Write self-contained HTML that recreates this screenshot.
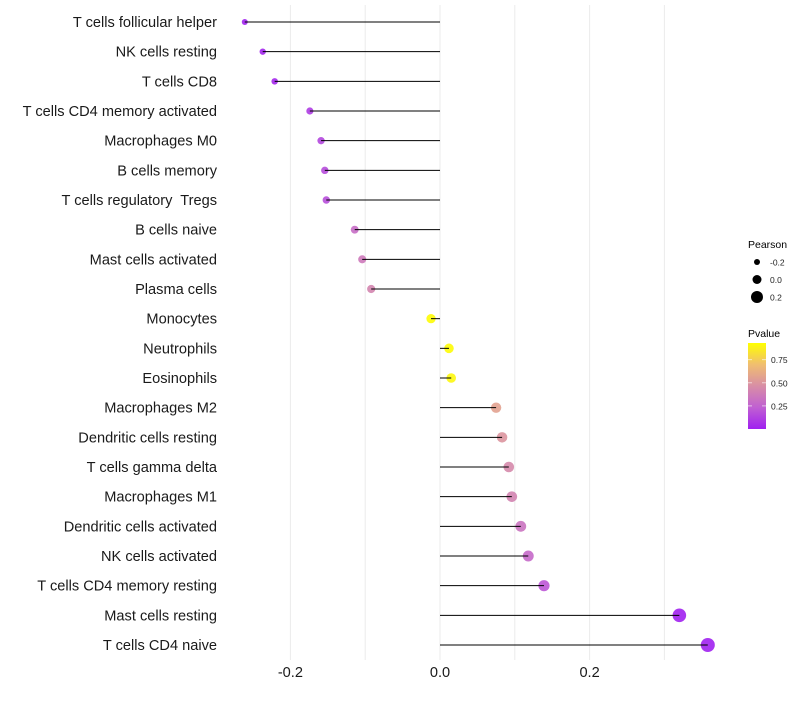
<!DOCTYPE html>
<html><head><meta charset="utf-8"><style>
body{margin:0;background:#fff;}
svg{font-family:"Liberation Sans",sans-serif;}
text{white-space:pre;}
</style></head><body>
<svg id="chart" width="800" height="700"></svg>
<script>
const categories=["T cells follicular helper","NK cells resting","T cells CD8","T cells CD4 memory activated","Macrophages M0","B cells memory","T cells regulatory  Tregs","B cells naive","Mast cells activated","Plasma cells","Monocytes","Neutrophils","Eosinophils","Macrophages M2","Dendritic cells resting","T cells gamma delta","Macrophages M1","Dendritic cells activated","NK cells activated","T cells CD4 memory resting","Mast cells resting","T cells CD4 naive"];
const pearson=[-0.261,-0.237,-0.221,-0.174,-0.159,-0.154,-0.152,-0.114,-0.104,-0.092,-0.012,0.012,0.015,0.075,0.083,0.092,0.096,0.108,0.118,0.139,0.320,0.358];
const pvalue=[0.01,0.02,0.03,0.10,0.14,0.16,0.17,0.30,0.36,0.42,0.92,0.92,0.90,0.56,0.50,0.44,0.41,0.33,0.28,0.20,0.005,0.002];
const xTicks=[-0.2,0.0,0.2];
const xTickLabels=["-0.2","0.0","0.2"];
const sizeLegend=[-0.2,0.0,0.2];
const colorTicks=[0.25,0.5,0.75];

const NS="http://www.w3.org/2000/svg";
const svg=document.getElementById('chart');
function mk(t,a,p){const e=document.createElementNS(NS,t);for(const k in a)e.setAttribute(k,a[k]);(p||svg).appendChild(e);return e;}
const x=v=>440+v*748;
const y=i=>22+i*29.667;
const r=v=>Math.max(1.5,4.7+6.5*v);
const rl=v=>4.5+7.5*v;
const stops=[[0,[160,32,240]],[0.25,[192,96,210]],[0.5,[216,142,166]],[0.75,[240,190,112]],[1,[255,255,0]]];
function col(p){p=Math.max(0,Math.min(1,p/0.93));for(let i=1;i<stops.length;i++){if(p<=stops[i][0]){const a=stops[i-1],b=stops[i],t=(p-a[0])/(b[0]-a[0]);const c=a[1].map((v,k)=>Math.round(v+(b[1][k]-v)*t));return `rgb(${c})`;}}return 'rgb(255,255,0)';}

[-0.3,-0.1,0.1,0.3].concat(xTicks).forEach(v=>{if(x(v)>225&&x(v)<725){const g=mk('line',{x1:x(v),x2:x(v),y1:5,y2:660,stroke:'#ebebeb','stroke-width':1});

}});
categories.forEach((c,i)=>{
 const pt=mk('circle',{cx:x(pearson[i]),cy:y(i),r:r(pearson[i]),fill:col(pvalue[i]),'fill-opacity':0.9});
 
 
 const ln=mk('line',{x1:x(0),x2:x(pearson[i]),y1:y(i),y2:y(i),stroke:'#000','stroke-width':1});
 
 
 const t=mk('text',{x:217,y:y(i)+5,'text-anchor':'end','font-size':14.6,fill:'#1a1a1a'});t.textContent=c;
 
 
});
xTicks.forEach((v,i)=>{const t=mk('text',{x:x(v),y:677,'text-anchor':'middle','font-size':14.6,fill:'#1a1a1a'});t.textContent=xTickLabels[i];

});
let t=mk('text',{x:748,y:248,'font-size':10.5,fill:'#000'});t.textContent='Pearson';


sizeLegend.forEach((v,i)=>{const cy=262+i*17.5;const c=mk('circle',{cx:757,cy:cy,r:rl(v),fill:'#000'});


const tt=mk('text',{x:770,y:cy+3.5,'font-size':8.5,fill:'#222'});tt.textContent=v.toFixed(1);

});
t=mk('text',{x:748,y:337,'font-size':10.5,fill:'#000'});t.textContent='Pvalue';


const defs=mk('defs',{});const lg=mk('linearGradient',{id:'pg',x1:0,y1:1,x2:0,y2:0},defs);
stops.forEach(s=>mk('stop',{offset:s[0],'stop-color':`rgb(${s[1]})`},lg));
const bar=mk('rect',{x:748,y:343,width:18,height:86,fill:'url(#pg)'});


colorTicks.forEach(v=>{const cy=429-(v/0.93)*86;mk('line',{x1:748,x2:752,y1:cy,y2:cy,stroke:'#fff','stroke-opacity':0.6});mk('line',{x1:762,x2:766,y1:cy,y2:cy,stroke:'#fff','stroke-opacity':0.6});
const tt=mk('text',{x:771,y:cy+3.5,'font-size':8.5,fill:'#222'});tt.textContent=v.toFixed(2);

});
</script>
</body></html>
